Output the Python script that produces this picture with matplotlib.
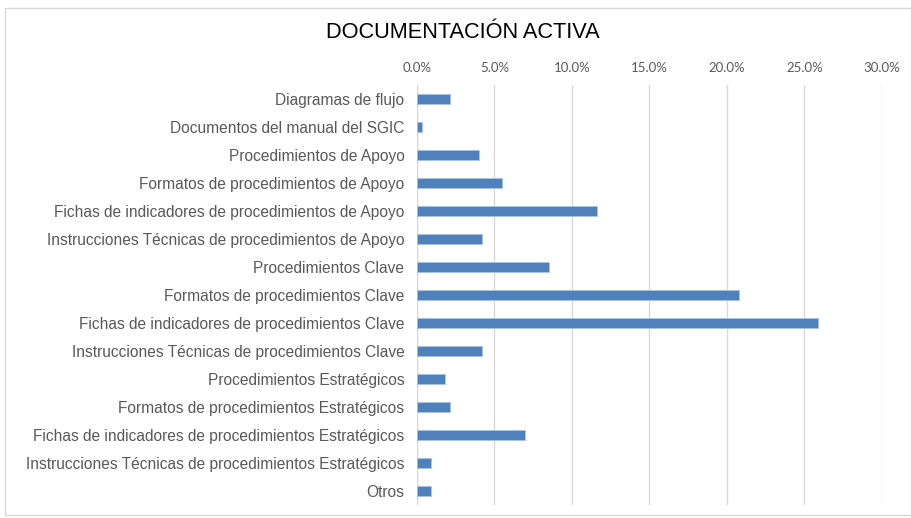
import matplotlib.pyplot as plt
from matplotlib.ticker import PercentFormatter
from matplotlib.patches import Rectangle

categorias = [
    "Diagramas de flujo",
    "Documentos del manual del SGIC",
    "Procedimientos de Apoyo",
    "Formatos de procedimientos de Apoyo",
    "Fichas de indicadores de procedimientos de Apoyo",
    "Instrucciones Técnicas de procedimientos de Apoyo",
    "Procedimientos Clave",
    "Formatos de procedimientos Clave",
    "Fichas de indicadores de procedimientos Clave",
    "Instrucciones Técnicas de procedimientos Clave",
    "Procedimientos Estratégicos",
    "Formatos de procedimientos Estratégicos",
    "Fichas de indicadores de procedimientos Estratégicos",
    "Instrucciones Técnicas de procedimientos Estratégicos",
    "Otros",
]
porcentajes = [2.1, 0.3, 4.0, 5.5, 11.6, 4.2, 8.5, 20.8, 25.9, 4.2, 1.8, 2.1, 7.0, 0.9, 0.9]
ticks = [0, 5, 10, 15, 20, 25, 30]

gris = "#595959"
fig = plt.figure(figsize=(9.12, 5.18), dpi=100)
ax = fig.add_axes([417 / 912, 13 / 518, (882 - 417) / 912, 420 / 518])

pos = list(range(len(categorias)))
ax.barh(pos, porcentajes, height=0.38, color="#4f81bd", edgecolor="#a9c4e4", linewidth=0.6, zorder=3)
ax.set_ylim(len(categorias) - 0.5, -0.5)
ax.set_xlim(0, 30)
ax.set_yticks(pos)
ax.set_yticklabels(categorias, fontfamily="Liberation Sans", fontsize=11.2, color=gris)
ax.set_xticks(ticks)
ax.xaxis.set_major_formatter(PercentFormatter(decimals=1))
ax.xaxis.tick_top()
for lab in ax.get_xticklabels():
    lab.set_fontfamily("Lato")
    lab.set_fontsize(9.5)
    lab.set_color(gris)
ax.tick_params(axis="both", length=0)
ax.tick_params(axis="y", pad=9)
ax.tick_params(axis="x", pad=8)
ax.grid(axis="x", color="#d9d9d9", linewidth=1, zorder=0)
for s in ax.spines.values():
    s.set_visible(False)
ax.axvline(0, color="#d9d9d9", linewidth=1, zorder=1)

fig.text(463 / 912, 1 - 33 / 518, "DOCUMENTACIÓN ACTIVA", ha="center", va="center",
         fontfamily="Liberation Sans", fontsize=15.7, color="black")
fig.patches.append(Rectangle((5 / 912, 3 / 518), 906 / 912, 507 / 518, transform=fig.transFigure,
                             fill=False, edgecolor="#d9d9d9", linewidth=1))

fig.savefig("out.png", dpi=100)
